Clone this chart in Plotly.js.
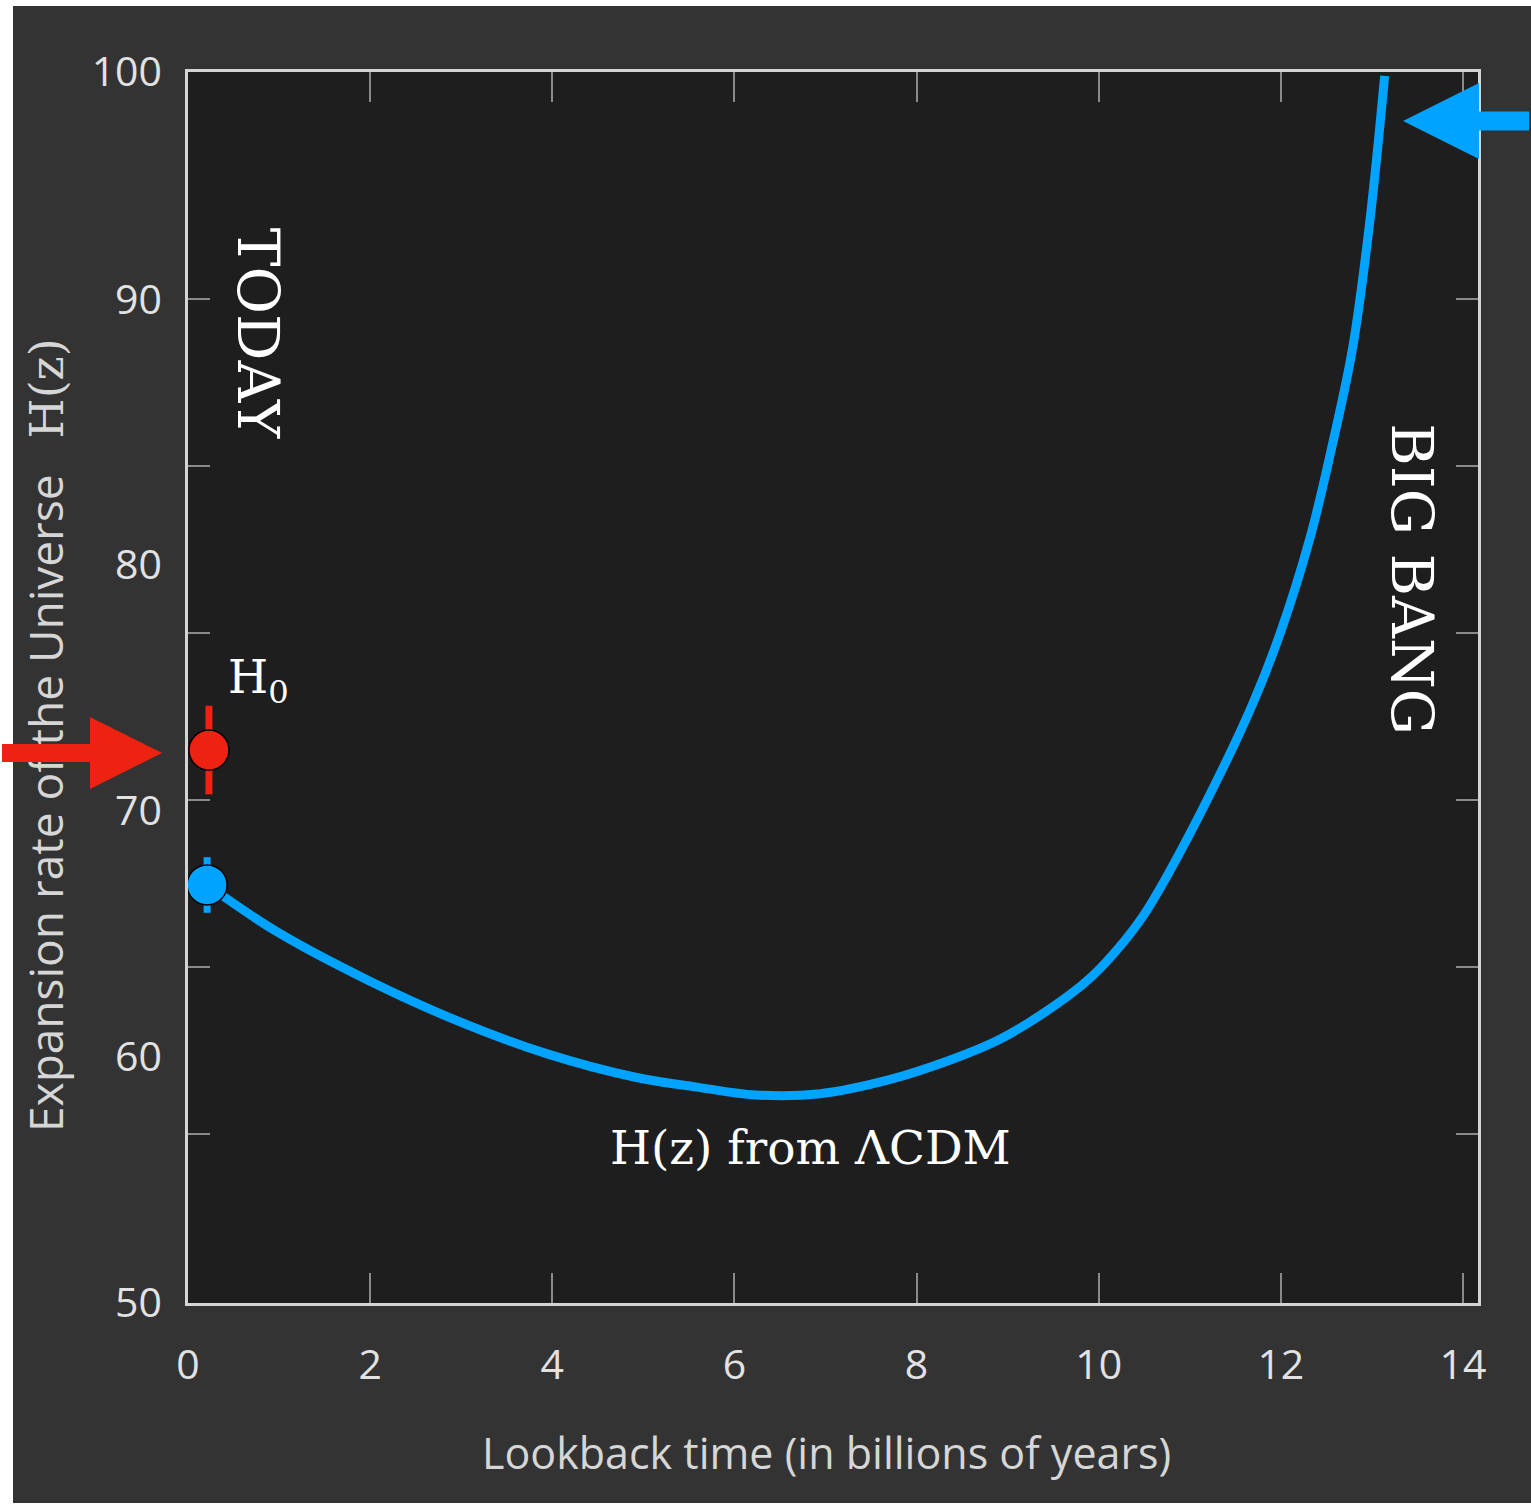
<!DOCTYPE html>
<html>
<head>
<meta charset="utf-8">
<script src="https://cdn.plot.ly/plotly-3.0.1.min.js"></script>
<style>
  html, body { margin: 0; padding: 0; background: #ffffff; }
  #chart { width: 1531px; height: 1507px; }
</style>
</head>
<body>
<div id="chart"></div>
<script>
// ---- data ----
// Lambda-CDM expansion rate vs lookback time
const lookbackGyr = [0.21, 0.98, 1.97, 2.94, 3.92, 4.90, 5.62, 6.23, 6.94, 7.69, 8.37, 8.92,
                     9.65, 9.93, 10.20, 10.48, 10.75, 11.30, 11.69, 11.99, 12.32, 12.57, 12.79, 12.98, 13.14];
const hubbleLCDM  = [66.98, 65.07, 63.12, 61.49, 60.15, 59.18, 58.75, 58.45, 58.50, 59.06, 59.87, 60.72,
                     62.43, 63.28, 64.34, 65.68, 67.34, 71.24, 74.33, 77.17, 81.07, 84.93, 88.83, 94.03, 99.84];

// H0 measurements (local = red, CMB/ΛCDM = blue)
const localH0X = [0.23];
const localH0Y = [72.46];
const localH0Err = [1.8];
const cmbH0X = [0.21];
const cmbH0Y = [66.98];
const cmbH0Err = [1.13];

// axes
const xTickVals = [0, 2, 4, 6, 8, 10, 12, 14];
const xTickText = ['0', '2', '4', '6', '8', '10', '12', '14'];
const yLabelVals = [50, 60, 70, 80, 90.74, 100];
const yLabelText = ['50', '60', '70', '80', '90', '100'];
const yTickMarks = [56.86, 63.65, 70.43, 77.20, 83.98, 90.76];

const BLUE = '#00a3ff';
const RED = '#ee2210';
const TICKFONT = 'Open Sans, sans-serif';
const SANS = 'Open Sans, sans-serif';
const SERIF = 'DejaVu Serif, Liberation Serif, serif';

const traces = [
  {
    x: lookbackGyr, y: hubbleLCDM, type: 'scatter', mode: 'lines',
    line: { color: BLUE, width: 9, shape: 'spline', smoothing: 1 },
    hoverinfo: 'skip'
  },
  {
    x: cmbH0X, y: cmbH0Y, type: 'scatter', mode: 'markers', yaxis: 'y2',
    cliponaxis: false,
    marker: { color: BLUE, size: 40, line: { color: '#000000', width: 1.5 } },
    error_y: { type: 'data', array: cmbH0Err, visible: true, color: BLUE, thickness: 7, width: 0 }
  },
  {
    x: localH0X, y: localH0Y, type: 'scatter', mode: 'markers', yaxis: 'y2',
    cliponaxis: false,
    marker: { color: RED, size: 40, line: { color: '#000000', width: 1.5 } },
    error_y: { type: 'data', array: localH0Err, visible: true, color: RED, thickness: 7, width: 0 }
  }
];

// paper-coordinate helpers for the figure frame (plot area 188..1478 x 72..1303)
const L = 188, R = 1478, T = 72, B = 1303, W = 1531, H = 1507;
const px = v => (v - L) / (R - L);
const py = v => (B - v) / (B - T);

const layout = {
  width: W, height: H,
  margin: { l: L, r: W - R, t: T, b: H - B, pad: 0 },
  paper_bgcolor: '#333333',
  plot_bgcolor: '#1e1e1e',
  showlegend: false,
  xaxis: {
    range: [0, (R - L) / 91.07],
    tickvals: xTickVals, ticktext: xTickText,
    ticks: 'inside', ticklen: 30, tickwidth: 2, tickcolor: '#8a8a8a',
    mirror: 'ticks', showline: true, linecolor: '#d4d4d4', linewidth: 3,
    showgrid: false, zeroline: false,
    tickfont: { family: TICKFONT, size: 41, color: '#e2e2e2' },
    ticklabelstandoff: 24
  },
  yaxis: {
    range: [50, 50 + (B - T) / 24.62],
    tickvals: yTickMarks, showticklabels: false,
    ticks: 'inside', ticklen: 22, tickwidth: 2, tickcolor: '#8a8a8a',
    mirror: 'ticks', showline: true, linecolor: '#d4d4d4', linewidth: 3,
    showgrid: false, zeroline: false
  },
  yaxis2: {
    overlaying: 'y', side: 'left',
    range: [50, 50 + (B - T) / 24.62],
    tickvals: yLabelVals, ticktext: yLabelText,
    ticks: '', showline: false, showgrid: false, zeroline: false,
    tickfont: { family: TICKFONT, size: 41, color: '#e2e2e2' },
    ticklabelstandoff: 25
  },
  shapes: [
    { type: 'rect', xref: 'paper', yref: 'paper', layer: 'below',
      x0: px(0), x1: px(13), y0: py(H), y1: py(0), fillcolor: '#ffffff', line: { width: 0 } },
    { type: 'rect', xref: 'paper', yref: 'paper', layer: 'below',
      x0: px(0), x1: px(W), y0: py(6), y1: py(0), fillcolor: '#ffffff', line: { width: 0 } },
    { type: 'rect', xref: 'paper', yref: 'paper', layer: 'below',
      x0: px(0), x1: px(W), y0: py(H), y1: py(1503), fillcolor: '#ffffff', line: { width: 0 } }
  ],
  annotations: [
    { text: 'TODAY', x: 0.77, y: 89.4, xref: 'x', yref: 'y', textangle: 90,
      showarrow: false, font: { family: SERIF, size: 58, color: '#ffffff' } },
    { text: 'BIG BANG', x: 13.44, y: 79.4, xref: 'x', yref: 'y', textangle: 90,
      showarrow: false, font: { family: SERIF, size: 58, color: '#ffffff' } },
    { text: 'H<sub>0</sub>', x: 0.77, y: 75.3, xref: 'x', yref: 'y',
      showarrow: false, font: { family: SERIF, size: 46, color: '#ffffff' } },
    { text: 'H(z) from ΛCDM', x: 6.83, y: 56.3, xref: 'x', yref: 'y',
      showarrow: false, font: { family: SERIF, size: 47, color: '#ffffff' } },
    { text: 'Expansion rate of the Universe&nbsp;&nbsp;&nbsp;<span style="font-family:DejaVu Serif">H(z)</span>',
      x: px(45), y: py(735), xref: 'paper', yref: 'paper', textangle: -90,
      xanchor: 'center', yanchor: 'middle',
      showarrow: false, font: { family: SANS, size: 46, color: '#d6d6d6' } },
    { text: 'Lookback time (in billions of years)',
      x: px(826), y: py(1452), xref: 'paper', yref: 'paper',
      xanchor: 'center', yanchor: 'middle',
      showarrow: false, font: { family: SANS, size: 43, color: '#d6d6d6' } },
    // red arrow pointing at the local H0
    { text: ' ', x: px(162), y: py(753), xref: 'paper', yref: 'paper',
      showarrow: true, ax: -170, ay: 0, arrowhead: 2, arrowsize: 0.8, arrowwidth: 18,
      arrowcolor: RED, standoff: 0, font: { size: 2 } },
    // blue arrow pointing at the top of the curve
    { text: ' ', x: px(1403), y: py(121), xref: 'paper', yref: 'paper',
      showarrow: true, ax: 140, ay: 0, arrowhead: 2, arrowsize: 0.8, arrowwidth: 19,
      arrowcolor: BLUE, standoff: 0, font: { size: 2 } }
  ]
};

Plotly.newPlot('chart', traces, layout, { staticPlot: true, displayModeBar: false });
</script>
</body>
</html>
